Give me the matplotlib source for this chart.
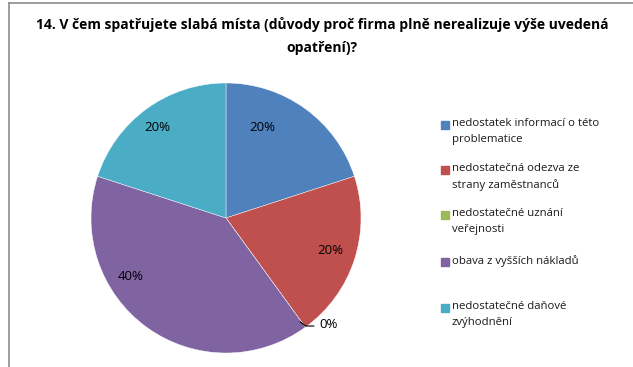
import matplotlib.pyplot as plt
from matplotlib.patches import Rectangle
from matplotlib.lines import Line2D

plt.rcParams["font.family"] = ["Open Sans", "DejaVu Sans"]

# survey answers and their shares
categories = [
    "nedostatek informací o této\nproblematice",
    "nedostatečná odezva ze\nstrany zaměstnanců",
    "nedostatečné uznání\nveřejnosti",
    "obava z vyšších nákladů",
    "nedostatečné daňové\nzvýhodnění",
]
shares = [20, 20, 0, 40, 20]
colors = ["#4F81BD", "#C0504D", "#9BBB59", "#8064A2", "#4BACC6"]

# label positions (pie radius units) for each slice
label_pos = [(0.27, 0.67), (0.77, -0.24), (0.76, -0.79), (-0.71, -0.43), (-0.51, 0.67)]

W, H = 633, 367
fig = plt.figure(figsize=(W / 100, H / 100), dpi=100)

# chart frame (top and left edges visible)
fig.add_artist(Line2D([9 / W, 1], [1 - 3 / H, 1 - 3 / H], color="#8c8c8c", lw=1.2))
fig.add_artist(Line2D([9 / W, 9 / W], [0, 1 - 3 / H], color="#8c8c8c", lw=1.2))

fig.text(322 / W, 1 - 25 / H, "14. V čem spatřujete slabá místa (důvody proč firma plně nerealizuje výše uvedená",
         ha="center", va="center", fontsize=10, fontweight="bold")
fig.text(322 / W, 1 - 48 / H, "opatření)?", ha="center", va="center", fontsize=10, fontweight="bold")

# pie: centre (226, 218), radius 135 px
r = 135
ax = fig.add_axes([(226 - r) / W, (H - 218 - r) / H, 2 * r / W, 2 * r / H])
ax.pie(shares, colors=colors, startangle=90, counterclock=False, radius=1,
       wedgeprops=dict(edgecolor="white", linewidth=0.3))
ax.set_xlim(-1, 1)
ax.set_ylim(-1, 1)
ax.set_aspect("auto")

for (x, y), v in zip(label_pos, shares):
    ax.text(x, y, f"{v}%", ha="center", va="center", fontsize=9.5)

# leader line for the zero slice
ax.plot([0.55, 0.59, 0.65], [-0.77, -0.80, -0.80], color="black", lw=0.8, clip_on=False)

# legend drawn by hand
slot_y = [125, 170, 215, 262, 308]
for c, lab, y in zip(colors, categories, slot_y):
    fig.add_artist(Rectangle((441 / W, 1 - (y + 4) / H), 8 / W, 8 / H, color=c))
    fig.text(452 / W, 1 - (y - 7) / H, lab, ha="left", va="top", fontsize=8.2,
             linespacing=1.6, color="#1a1a1a")

fig.savefig("out.png", dpi=100)
